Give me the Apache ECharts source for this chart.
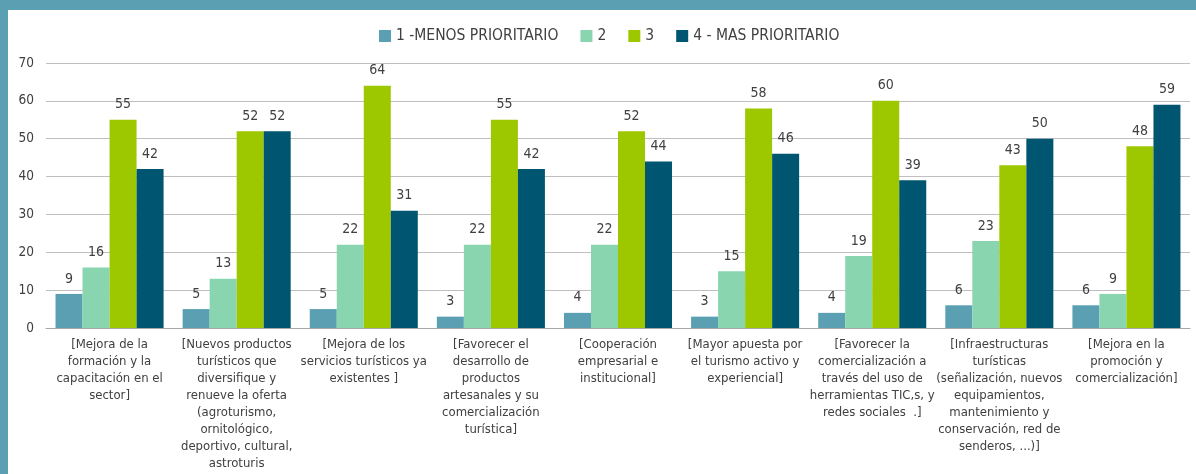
<!DOCTYPE html>
<html>
<head>
<meta charset="utf-8">
<script src="https://cdn.jsdelivr.net/npm/echarts@6/dist/echarts.min.js"></script>
<style>
  html, body { margin: 0; padding: 0; background: #5a9fb2; }
  #frame { position: absolute; left: 0; top: 0; width: 1196px; height: 474px; background: #5a9fb2; }
  #chart { position: absolute; left: 8px; top: 10px; width: 1188px; height: 464px; background: #ffffff; }
</style>
</head>
<body>
<div id="frame"></div>
<div id="chart"></div>
<script>
// Priority survey: votes per tourism action, by priority level
const categories = [
  "[Mejora de la\nformación y la\ncapacitación en el\nsector]",
  "[Nuevos productos\nturísticos que\ndiversifique y\nrenueve la oferta\n(agroturismo,\nornitológico,\ndeportivo, cultural,\nastroturis",
  "[Mejora de los\nservicios turísticos ya\nexistentes ]",
  "[Favorecer el\ndesarrollo de\nproductos\nartesanales y su\ncomercialización\nturística]",
  "[Cooperación\nempresarial e\ninstitucional]",
  "[Mayor apuesta por\nel turismo activo y\nexperiencial]",
  "[Favorecer la\ncomercialización a\ntravés del uso de\nherramientas TIC,s, y\nredes sociales  .]",
  "[Infraestructuras\nturísticas\n(señalización, nuevos\nequipamientos,\nmantenimiento y\nconservación, red de\nsenderos, ...)]",
  "[Mejora en la\npromoción y\ncomercialización]"
];
const seriesNames = ["1 -MENOS PRIORITARIO", "2", "3", "4 - MAS PRIORITARIO"];
const prio1 = [9, 5, 5, 3, 4, 3, 4, 6, 6];
const prio2 = [16, 13, 22, 22, 22, 15, 19, 23, 9];
const prio3 = [55, 52, 64, 55, 52, 58, 60, 43, 48];
const prio4 = [42, 52, 31, 42, 44, 46, 39, 50, 59];
const colors = ["#5a9fb2", "#88d5b0", "#9dc800", "#005670"];

const FONT = "'Liberation Sans Narrow', 'DejaVu Sans Condensed', 'Roboto', sans-serif";

const chart = echarts.init(document.getElementById('chart'), null, { renderer: 'canvas' });

const values = [prio1, prio2, prio3, prio4];
chart.setOption({
  animation: false,
  color: colors,
  textStyle: { fontFamily: FONT },
  legend: {
    top: 13,
    left: 366,
    itemWidth: 12,
    itemHeight: 12,
    itemGap: 22,
    icon: 'rect',
    textStyle: { fontSize: 15.5, color: '#404040', fontFamily: FONT },
    data: seriesNames
  },
  grid: { left: 38, right: 6, top: 53, bottom: 146, outerBoundsMode: 'none', containLabel: false },
  xAxis: {
    type: 'category',
    data: categories,
    axisTick: { show: false },
    axisLine: { lineStyle: { color: '#a6a6a6', width: 1 } },
    axisLabel: {
      interval: 0,
      margin: 8,
      fontSize: 13,
      lineHeight: 17,
      color: '#404040',
      fontFamily: FONT
    }
  },
  yAxis: {
    type: 'value',
    min: 0,
    max: 70,
    interval: 10,
    axisLine: { show: false },
    axisTick: { show: false },
    axisLabel: { fontSize: 13.5, color: '#404040', margin: 12, fontFamily: FONT },
    splitLine: { lineStyle: { color: '#bfbfbf', width: 1 } }
  },
  series: seriesNames.map((name, i) => ({
    name: name,
    type: 'bar',
    data: values[i],
    barGap: '0%',
    barCategoryGap: '15%',
    itemStyle: { color: colors[i] },
    label: {
      show: true,
      position: 'top',
      distance: 8,
      fontSize: 14,
      color: '#404040',
      fontFamily: FONT
    }
  }))
});
</script>
</body>
</html>
